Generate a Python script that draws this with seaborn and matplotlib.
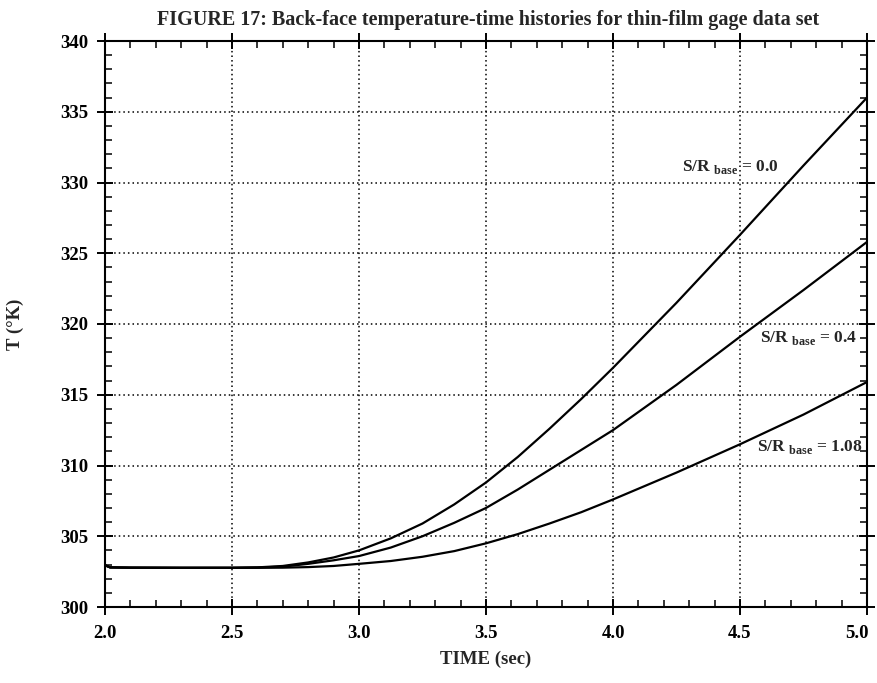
import matplotlib
matplotlib.use("Agg")
import matplotlib.pyplot as plt
from matplotlib.ticker import MultipleLocator
from matplotlib.transforms import ScaledTranslation
import pandas as pd
import seaborn as sns

# Back-face temperature histories (K) vs time (s) for three S/R_base values
time_s = [2.0, 2.02, 2.1, 2.3, 2.5, 2.6, 2.7, 2.8, 2.9, 3.0, 3.125, 3.25, 3.375, 3.5, 3.625,
          3.75, 3.875, 4.0, 4.125, 4.25, 4.375, 4.5, 4.625, 4.75, 4.875, 5.0]
temp_sr_00 = [302.95, 302.8, 302.78, 302.77, 302.77, 302.8, 302.9, 303.15, 303.5, 304.0, 304.85,
              305.9, 307.25, 308.8, 310.6, 312.6, 314.7, 316.9, 319.2, 321.5, 323.9, 326.3,
              328.75, 331.2, 333.6, 336.0]
temp_sr_04 = [302.95, 302.8, 302.78, 302.77, 302.77, 302.79, 302.85, 303.05, 303.3, 303.6, 304.2,
              305.0, 305.95, 307.0, 308.3, 309.7, 311.1, 312.5, 314.1, 315.7, 317.4, 319.1,
              320.75, 322.4, 324.1, 325.8]
temp_sr_108 = [302.95, 302.8, 302.78, 302.77, 302.77, 302.77, 302.78, 302.82, 302.9, 303.05, 303.25,
               303.55, 303.95, 304.5, 305.15, 305.9, 306.7, 307.6, 308.55, 309.5, 310.5, 311.5,
               312.55, 313.6, 314.75, 315.9]
series_names = ["0.0", "0.4", "1.08"]

x_ticks = [2.0, 2.5, 3.0, 3.5, 4.0, 4.5, 5.0]
y_ticks = [300, 305, 310, 315, 320, 325, 330, 335, 340]

frames = []
for name, vals in zip(series_names, [temp_sr_00, temp_sr_04, temp_sr_108]):
    frames.append(pd.DataFrame({"time": time_s, "T": vals, "sr": name}))
df = pd.concat(frames, ignore_index=True)

sns.set_style("ticks")
plt.rcParams["font.family"] = ["Liberation Serif", "DejaVu Serif"]
plt.rcParams["font.weight"] = "bold"
plt.rcParams["mathtext.fontset"] = "custom"
plt.rcParams["mathtext.rm"] = "Liberation Serif:bold"
plt.rcParams["mathtext.bf"] = "Liberation Serif:bold"

fig = plt.figure(figsize=(8.77, 6.83), dpi=100)
ax = fig.add_axes([105 / 877, 1 - 607 / 683, (867 - 105) / 877, (607 - 41) / 683])

sns.lineplot(data=df, x="time", y="T", hue="sr", palette=["black"] * 3,
             legend=False, linewidth=1.6, ax=ax)

ax.set_xlim(2.0, 5.0)
ax.set_ylim(300, 340)
ax.set_xticks(x_ticks)
ax.set_xticklabels([f"{v:.1f}" for v in x_ticks])
ax.set_yticks(y_ticks)
ax.set_yticklabels([str(v) for v in y_ticks])
ax.xaxis.set_minor_locator(MultipleLocator(0.1))
ax.yaxis.set_minor_locator(MultipleLocator(1))

ax.grid(True, which="major", color="black", linestyle=(0, (1, 2)), linewidth=1.1)
for s in ax.spines.values():
    s.set_visible(True)
    s.set_linewidth(1.5)
    s.set_color("black")

ax.tick_params(which="major", direction="inout", length=12, width=1.4,
               top=True, right=True, labelsize=13.5, colors="black")
ax.tick_params(which="minor", direction="in", length=5, width=1.1,
               top=True, right=True, colors="black")
ax.tick_params(axis="x", which="major", pad=7)
ax.tick_params(axis="y", which="major", pad=6)
for lab in ax.get_xticklabels() + ax.get_yticklabels():
    lab.set_fontweight("bold")

# nudge the last x tick label inward so it stays inside the figure
last = ax.get_xticklabels()[-1]
last.set_transform(last.get_transform() + ScaledTranslation(-7 / 72, 0, fig.dpi_scale_trans))

ax.set_xlabel("TIME (sec)", fontsize=13.5, fontweight="bold", labelpad=6)
ax.set_ylabel("T (°K)", fontsize=13.5, fontweight="bold")
ax.yaxis.set_label_coords(-0.106, 0.5)
fig.text(0.557, 0.985, "FIGURE 17: Back-face temperature-time histories for thin-film gage data set",
         ha="center", va="top", fontsize=14.5, fontweight="bold")

label_pos = {"0.0": (4.27, 331.1), "0.4": (4.58, 319.0), "1.08": (4.565, 311.3)}
for name in series_names:
    x, y = label_pos[name]
    ax.text(x, y, r"S/R $_{\mathrm{base}}$ = " + name, fontsize=12.5, fontweight="bold",
            ha="left", va="center")

fig.savefig("out.png", dpi=100, facecolor="white")
